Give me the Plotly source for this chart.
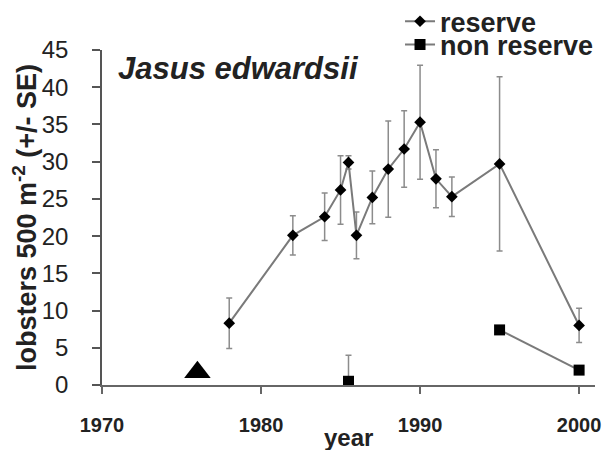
import plotly.graph_objects as go

# ---- data ----
reserve_years = [1978, 1982, 1984, 1985, 1985.5, 1986, 1987, 1988, 1989, 1990, 1991, 1992, 1995, 2000]
reserve_mean = [8.3, 20.1, 22.6, 26.2, 29.9, 20.1, 25.2, 29.0, 31.7, 35.3, 27.7, 25.3, 29.7, 8.0]
reserve_se = [3.4, 2.65, 3.2, 4.6, 0.9, 3.15, 3.55, 6.45, 5.15, 7.65, 3.9, 2.65, 11.7, 2.3]

nonres_years = [1985.5, 1990, 1995, 2000]
nonres_mean = [0.5, None, 7.4, 2.0]
nonres_se = [3.5, 0, 0, 0]

closure_year = [1976]
closure_marker_value = [1.7]

x_ticks = [1970, 1980, 1990, 2000]
y_ticks = [0, 5, 10, 15, 20, 25, 30, 35, 40, 45]

FONT = "Arial, 'Liberation Sans', sans-serif"
GREY = "#7a7a7a"

fig = go.Figure()

fig.add_trace(go.Scatter(
    x=reserve_years, y=reserve_mean, mode="lines+markers", name="reserve",
    line=dict(color=GREY, width=2),
    marker=dict(symbol="diamond", size=9, color="black"),
    error_y=dict(type="data", array=reserve_se, visible=True,
                 color="#8c8c8c", thickness=1.5, width=3),
    legend="legend",
))

fig.add_trace(go.Scatter(
    x=nonres_years, y=nonres_mean, mode="lines+markers", name="non reserve",
    line=dict(color=GREY, width=2),
    marker=dict(symbol="square", size=11, color="black"),
    error_y=dict(type="data", array=nonres_se, visible=True,
                 color="#8c8c8c", thickness=1.5, width=3),
    connectgaps=False,
    legend="legend2",
))

fig.add_trace(go.Scatter(
    x=closure_year, y=closure_marker_value, mode="markers", name="reserve established",
    marker=dict(symbol="triangle-up", size=23, color="black"),
    showlegend=False,
))

fig.update_layout(
    width=607, height=442,
    margin=dict(l=94, r=20, t=42, b=65, autoexpand=False),
    paper_bgcolor="white", plot_bgcolor="white",
    font=dict(family=FONT, color="#222"),
    legend=dict(x=0.6045, xanchor="left", y=1.0845, yanchor="middle",
                font=dict(family=FONT, size=27, weight="bold", color="#222"),
                bgcolor="rgba(0,0,0,0)", itemwidth=30, borderwidth=0),
    legend2=dict(x=0.6045, xanchor="left", y=1.015, yanchor="middle",
                 font=dict(family=FONT, size=27, weight="bold", color="#222"),
                 bgcolor="rgba(0,0,0,0)", itemwidth=30, borderwidth=0),
    annotations=[
        dict(text="<b><i>Jasus edwardsii</i></b>", xref="paper", yref="paper",
             x=0.028, y=0.945, xanchor="left", yanchor="middle", showarrow=False,
             font=dict(family=FONT, size=31, color="#222")),
        dict(text="<b>year</b>", xref="paper", yref="paper",
             x=0.5, y=-0.158, xanchor="center", yanchor="middle", showarrow=False,
             font=dict(family=FONT, size=24, color="#222")),
    ],
)

fig.update_xaxes(
    range=[1970, 2001], tickvals=x_ticks, ticktext=[str(v) for v in x_ticks],
    showline=True, linecolor="#666", linewidth=2, mirror=False,
    ticks="outside", ticklen=7, tickcolor="#666", tickwidth=2,
    showgrid=False, zeroline=False,
    tickfont=dict(family=FONT, size=20, weight="bold", color="#222"),
    ticklabelstandoff=14,
)

fig.update_yaxes(
    range=[0, 45], tickvals=y_ticks,
    showline=True, linecolor="#555", linewidth=1.5,
    ticks="outside", ticklen=8, tickcolor="#555", tickwidth=1.5,
    showgrid=False, zeroline=False,
    tickfont=dict(family=FONT, size=24, color="#222"),
    ticklabelstandoff=19,
    title=dict(text="<b>lobsters 500 m<sup>-2</sup> (+/- SE)</b>",
               font=dict(family=FONT, size=27, color="#222"), standoff=8),
)

fig.write_html("out.html")
